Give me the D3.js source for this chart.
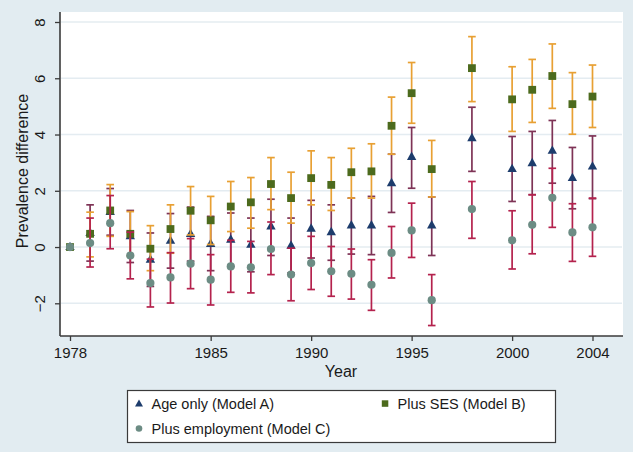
<!DOCTYPE html>
<html><head><meta charset="utf-8">
<script src="https://cdn.jsdelivr.net/npm/d3@7"></script>
<style>
html,body{margin:0;padding:0;background:#e2ecf1;}
svg text{font-family:"Liberation Sans",Arial,sans-serif;fill:#1a1a1a;}
</style></head>
<body><svg id="c" width="633" height="452"></svg>
<script>
const years = [1978,1979,1980,1981,1982,1983,1984,1985,1986,1987,1988,1989,1990,1991,1992,1993,1994,1995,1996,1998,2000,2001,2002,2003,2004];
// Model A: Age only
const aEst = [0,0.50,1.25,0.38,-0.45,0.22,0.46,0.11,0.26,0.08,0.73,0.05,0.65,0.53,0.77,0.77,2.27,3.20,0.77,3.87,2.77,2.98,3.42,2.45,2.86];
const aLo  = [0,-0.50,0.42,-0.55,-1.40,-0.75,-0.50,-0.84,-0.69,-0.88,-0.30,-0.92,-0.39,-0.47,-0.25,-0.27,1.23,2.09,-0.30,2.69,1.62,1.86,2.27,1.36,1.72];
const aHi  = [0,1.50,2.08,1.30,0.50,1.19,1.42,1.09,1.21,1.03,1.70,1.03,1.66,1.50,1.74,1.80,3.30,4.25,1.78,4.97,3.93,4.11,4.50,3.54,3.95];
// Model B: Plus SES
const bEst = [0,0.47,1.30,0.47,-0.06,0.64,1.29,0.95,1.44,1.59,2.24,1.74,2.45,2.21,2.66,2.69,4.31,5.47,2.77,6.36,5.25,5.59,6.08,5.08,5.35];
const bLo  = [0,-0.35,0.38,-0.32,-0.84,-0.22,0.43,0.09,0.55,0.67,1.33,0.85,1.50,1.30,1.74,1.74,3.30,4.40,1.78,5.17,4.11,4.43,4.93,4.01,4.25];
const bHi  = [0,1.24,2.22,1.26,0.76,1.50,2.15,1.80,2.33,2.47,3.18,2.66,3.42,3.18,3.51,3.67,5.33,6.56,3.79,7.48,6.41,6.67,7.22,6.20,6.47];
// Model C: Plus employment
const cEst = [0,0.14,0.85,-0.30,-1.28,-1.08,-0.59,-1.16,-0.69,-0.72,-0.07,-0.98,-0.57,-0.86,-0.95,-1.34,-0.21,0.59,-1.89,1.35,0.24,0.79,1.75,0.52,0.70];
const cLo  = [0,-0.71,-0.06,-1.13,-2.13,-1.99,-1.48,-2.06,-1.61,-1.63,-0.98,-1.91,-1.51,-1.75,-1.85,-2.25,-1.10,-0.37,-2.79,0.31,-0.78,-0.24,0.70,-0.51,-0.33];
const cHi  = [0,1.03,1.83,0.53,-0.43,-0.20,0.30,-0.27,0.24,0.20,0.89,-0.04,0.38,0.02,-0.07,-0.45,0.73,1.56,-0.98,2.33,1.29,1.86,2.80,1.54,1.74];

const xTicks = [1978,1985,1990,1995,2000,2004];
const yTicks = [-2,0,2,4,6,8];
const seriesNames = ["Age only (Model A)","Plus SES (Model B)","Plus employment (Model C)"];

const svg = d3.select("#c");
const x = d3.scaleLinear().domain([1978,2004]).range([70,592.5]);
const y = d3.scaleLinear().domain([-2,8]).range([303.3,22]);

// plot region
svg.append("rect").attr("x",60).attr("y",12).attr("width",563).attr("height",324).attr("fill","#ffffff");

// gridlines
svg.append("g").selectAll("line").data(yTicks).join("line")
  .attr("x1",61).attr("x2",622).attr("y1",d=>y(d)).attr("y2",d=>y(d))
  .attr("stroke","#e4ecf1").attr("stroke-width",1.6);

const series = [
  {est:aEst, lo:aLo, hi:aHi, ci:"#7e3356", fill:"#1d3c6c", shape:"tri"},
  {est:bEst, lo:bLo, hi:bHi, ci:"#e8a033", fill:"#4c6a1d", shape:"sq"},
  {est:cEst, lo:cLo, hi:cHi, ci:"#b4224d", fill:"#6c8c84", shape:"circ"}
];
const cap = 3.8;
function drawMarker(g, shape, fill, cx, cy){
  if(shape==="tri"){
    g.append("path").attr("d",`M${cx},${cy-5.4}L${cx+4.7},${cy+3}L${cx-4.7},${cy+3}Z`).attr("fill",fill);
  } else if(shape==="sq"){
    g.append("rect").attr("x",cx-3.9).attr("y",cy-3.9).attr("width",7.8).attr("height",7.8).attr("fill",fill);
  } else {
    g.append("circle").attr("cx",cx).attr("cy",cy).attr("r",4.1).attr("fill",fill);
  }
}
series.forEach(s=>{
  const g = svg.append("g");
  years.forEach((yr,i)=>{
    const cx = x(yr);
    g.append("line").attr("x1",cx).attr("x2",cx).attr("y1",y(s.lo[i])).attr("y2",y(s.hi[i]))
      .attr("stroke",s.ci).attr("stroke-width",1.7);
    [s.lo[i],s.hi[i]].forEach(v=>{
      g.append("line").attr("x1",cx-cap).attr("x2",cx+cap).attr("y1",y(v)).attr("y2",y(v))
        .attr("stroke",s.ci).attr("stroke-width",1.7);
    });
  });
  years.forEach((yr,i)=>drawMarker(g,s.shape,s.fill,x(yr),y(s.est[i])));
});

// axes
const ax = svg.append("g").attr("transform","translate(0,336)")
  .call(d3.axisBottom(x).tickValues(xTicks).tickFormat(d3.format("d")).tickSize(5).tickSizeOuter(0));
ax.select(".domain").attr("d","M60,0H623").attr("stroke","#3a3a3a").attr("stroke-width",1.6);
ax.selectAll(".tick line").attr("stroke","#3a3a3a").attr("stroke-width",1.3);
ax.selectAll(".tick text").attr("font-size",15).attr("y",22).attr("dy",null).attr("fill","#1a1a1a");

const ay = svg.append("g").attr("transform","translate(60,0)")
  .call(d3.axisLeft(y).tickValues(yTicks).tickSize(5).tickSizeOuter(0));
ay.select(".domain").attr("d","M0,12V336").attr("stroke","#3a3a3a").attr("stroke-width",1.6);
ay.selectAll(".tick line").attr("stroke","#3a3a3a").attr("stroke-width",1.3);
ay.selectAll(".tick text").attr("font-size",15).attr("fill","#1a1a1a")
  .attr("x",null).attr("dy",null).attr("text-anchor","middle")
  .attr("transform","translate(-15,0) rotate(-90)");

// titles
svg.append("text").attr("text-anchor","middle").attr("font-size",16)
  .attr("x",341).attr("y",377).text("Year");
svg.append("text").attr("text-anchor","middle").attr("font-size",16)
  .attr("transform","translate(28,171) rotate(-90)").text("Prevalence difference");

// legend
const lg = svg.append("g");
lg.append("rect").attr("x",127.5).attr("y",390.5).attr("width",428).attr("height",52)
  .attr("fill","#ffffff").attr("stroke","#3a3a3a").attr("stroke-width",1.2);
const legendPos = [[139,404],[385,404],[139,429]];
series.forEach((s,i)=>{
  const [lx,ly]=legendPos[i];
  const gg = lg.append("g");
  if(s.shape==="tri") gg.append("path").attr("d",`M${lx},${ly-4.5}L${lx+4},${ly+2.5}L${lx-4},${ly+2.5}Z`).attr("fill",s.fill);
  else if(s.shape==="sq") gg.append("rect").attr("x",lx-3.2).attr("y",ly-3.7).attr("width",6.5).attr("height",6.5).attr("fill",s.fill);
  else gg.append("circle").attr("cx",lx).attr("cy",ly-0.5).attr("r",3.3).attr("fill",s.fill);
  lg.append("text").attr("font-size",14.5)
    .attr("x",lx+12.5).attr("y",ly+5).text(seriesNames[i]);
});
</script></body></html>
